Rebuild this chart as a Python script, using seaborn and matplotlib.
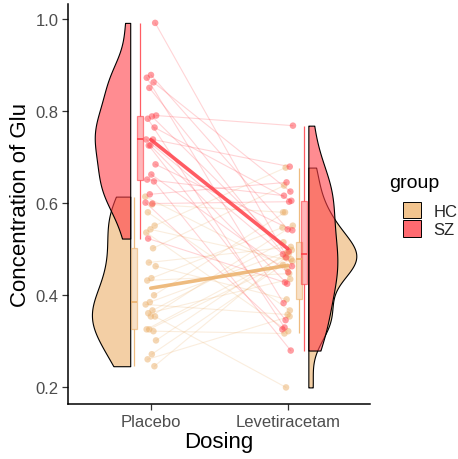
import numpy as np
import pandas as pd
import matplotlib
matplotlib.use("Agg")
import matplotlib.pyplot as plt
from matplotlib.colors import to_rgba
from matplotlib.patches import Patch
import seaborn as sns

# ---------------- data (paired: index i = same subject) ----------------
groups = ["HC", "SZ"]
doses = ["Placebo", "Levetiracetam"]

hc_placebo = [0.614, 0.597, 0.580, 0.551, 0.543, 0.536, 0.502, 0.471, 0.463, 0.437,
              0.432, 0.400, 0.385, 0.380, 0.367, 0.361, 0.354, 0.354, 0.326, 0.322,
              0.326, 0.302, 0.272, 0.261, 0.246]
hc_lev = [0.458, 0.580, 0.367, 0.677, 0.474, 0.322, 0.638, 0.505, 0.391, 0.547,
          0.447, 0.580, 0.498, 0.358, 0.515, 0.435, 0.200, 0.551, 0.489, 0.317,
          0.478, 0.493, 0.466, 0.354, 0.482]

sz_placebo = [0.991, 0.878, 0.872, 0.862, 0.850, 0.790, 0.788, 0.783, 0.764, 0.725,
              0.738, 0.738, 0.725, 0.684, 0.662, 0.651, 0.647, 0.619, 0.601, 0.599,
              0.523]
sz_lev = [0.463, 0.543, 0.383, 0.625, 0.482, 0.768, 0.495, 0.330, 0.605, 0.425,
          0.489, 0.679, 0.346, 0.541, 0.450, 0.616, 0.280, 0.645, 0.326, 0.603,
          0.428]

y_ticks = [0.2, 0.4, 0.6, 0.8, 1.0]

palette = {"HC": "#EBAF69", "SZ": "#FF3F48"}
legend_key = {"HC": "#F2C48E", "SZ": "#FF6A70"}

# ---------------- build long table ----------------
rows = []
series = {("HC", "Placebo"): hc_placebo, ("HC", "Levetiracetam"): hc_lev,
          ("SZ", "Placebo"): sz_placebo, ("SZ", "Levetiracetam"): sz_lev}
dose_pos = {"Placebo": 1.0, "Levetiracetam": 2.0}
box_pos = {"Placebo": 0.90, "Levetiracetam": 2.10}
box_dodge = {"HC": -0.02, "SZ": 0.02}
k = 0
for g in groups:
    for d in doses:
        vals = series[(g, d)]
        for i, v in enumerate(vals):
            jit = (((k * 0.61803398875) % 1.0) * 2 - 1) * 0.04
            rows.append(dict(subject=f"{g}{i}", group=g, dose=d, value=v,
                             xnum=dose_pos[d], xj=dose_pos[d] + jit,
                             xbox=box_pos[d] + box_dodge[g]))
            k += 1
df = pd.DataFrame(rows)

# ---------------- figure ----------------
sns.set_theme(style="white")
plt.rcParams["font.family"] = ["Liberation Sans", "DejaVu Sans"]

fig = plt.figure(figsize=(4.58, 4.60), dpi=100)
ax = fig.add_axes([68 / 458, 55 / 460, 302 / 458, 400 / 460])


def kde(vals, grid):
    v = np.asarray(vals)
    n = len(v)
    q75, q25 = np.percentile(v, [75, 25])
    bw = 0.9 * min(v.std(ddof=1), (q75 - q25) / 1.34) * n ** (-0.2)
    z = (grid[:, None] - v[None, :]) / bw
    return np.exp(-0.5 * z ** 2).sum(axis=1) / (n * bw * np.sqrt(2 * np.pi))


# half violins (scale = area)
violin_edge = {"Placebo": (0.85, -1), "Levetiracetam": (2.15, 1)}
dens = {}
for g in groups:
    for d in doses:
        vals = series[(g, d)]
        grid = np.linspace(min(vals), max(vals), 512)
        dens[(g, d)] = (grid, kde(vals, grid))
dmax = max(v[1].max() for v in dens.values())
for d in doses:
    edge, side = violin_edge[d]
    for g in groups:
        grid, den = dens[(g, d)]
        w = den / dmax * 0.35
        ax.fill_betweenx(grid, edge, edge + side * w,
                         facecolor=to_rgba(palette[g], 0.6),
                         edgecolor="black", linewidth=0.8, zorder=1)

# paired lines
sns.lineplot(data=df, x="xj", y="value", hue="group", units="subject",
             estimator=None, palette=palette, alpha=0.22, linewidth=0.8,
             legend=False, ax=ax, zorder=2)

# points
sns.scatterplot(data=df, x="xj", y="value", hue="group", palette=palette,
                alpha=0.5, s=22, linewidth=0, legend=False, ax=ax, zorder=3)

# boxplots
for g in groups:
    c = palette[g]
    sns.boxplot(data=df[df.group == g], x="xbox", y="value", native_scale=True,
                orient="x", width=0.042 / 1.2, color=c, saturation=1,
                showfliers=False, linewidth=0.9, ax=ax,
                boxprops=dict(facecolor=to_rgba(c, 0.38), edgecolor=to_rgba(c, 0.6)),
                whiskerprops=dict(color=to_rgba(c, 0.85)),
                capprops=dict(linewidth=0),
                medianprops=dict(color=to_rgba(c, 0.9), linewidth=1.3),
                zorder=4)

# group means
sns.lineplot(data=df, x="xnum", y="value", hue="group", palette=palette,
             errorbar=None, linewidth=2.6, alpha=0.85, legend=False, ax=ax,
             zorder=5)

# ---------------- axes styling ----------------
ax.set_xlim(0.396, 2.60)
ax.set_ylim(0.164, 1.032)
ax.set_xticks([1, 2])
ax.set_xticklabels(doses)
ax.set_yticks(y_ticks)
ax.set_yticklabels([f"{t:.1f}" for t in y_ticks])
ax.tick_params(axis="both", colors="#333333", labelcolor="#4D4D4D",
               labelsize=12, length=4, width=0.9, direction="out", pad=3)
ax.tick_params(axis="x", bottom=True)
ax.tick_params(axis="y", left=True)
for s in ["top", "right"]:
    ax.spines[s].set_visible(False)
for s in ["left", "bottom"]:
    ax.spines[s].set_color("black")
    ax.spines[s].set_linewidth(1.1)
ax.set_xlabel("Dosing", fontsize=16, color="black", labelpad=2)
ax.set_ylabel("Concentration of Glu", fontsize=16, color="black", labelpad=3)
ax.grid(False)

fig.text(389 / 458, 1 - 183 / 460, "group", fontsize=14, color="black",
         ha="left", va="center")
handles = [Patch(facecolor=legend_key[g], edgecolor="black", linewidth=0.7, label=g)
           for g in groups]
leg = fig.legend(handles=handles, loc="upper left",
                 bbox_to_anchor=(396 / 458, 1 - 196 / 460), frameon=False,
                 fontsize=12, handlelength=1.1, handleheight=1.15,
                 handletextpad=0.75, labelspacing=0.1, borderaxespad=0)

fig.savefig("out.png", dpi=100)
